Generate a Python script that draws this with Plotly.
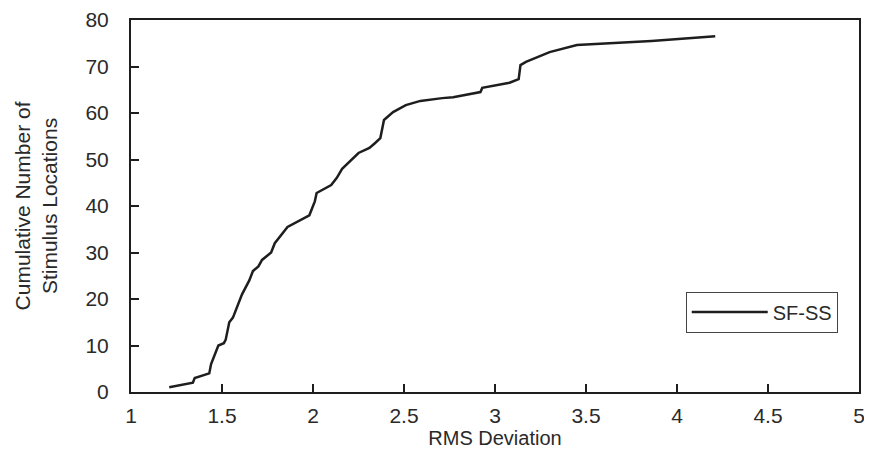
import plotly.graph_objects as go

rms_deviation = [1.21, 1.34, 1.35, 1.43, 1.44, 1.48, 1.51, 1.52, 1.54, 1.56, 1.61, 1.65,
                 1.67, 1.70, 1.72, 1.77, 1.79, 1.86, 1.98, 2.01, 2.02, 2.10, 2.13, 2.16,
                 2.25, 2.31, 2.34, 2.37, 2.39, 2.44, 2.51, 2.59, 2.71, 2.77, 2.92, 2.93,
                 3.08, 3.13, 3.14, 3.17, 3.30, 3.45, 3.86, 4.21]
cumulative_count = [1, 2, 3, 4, 6, 10, 10.5, 11.2, 15, 16, 21, 24,
                    26, 27, 28.4, 30, 32, 35.5, 38, 41, 42.8, 44.5, 46, 48,
                    51.4, 52.5, 53.5, 54.6, 58.5, 60.2, 61.7, 62.6, 63.2, 63.4, 64.5, 65.4,
                    66.5, 67.3, 70.3, 71, 73.1, 74.6, 75.5, 76.5]

x_ticks = [1, 1.5, 2, 2.5, 3, 3.5, 4, 4.5, 5]
y_ticks = [0, 10, 20, 30, 40, 50, 60, 70, 80]

FONT = "Liberation Sans, Arial, sans-serif"
TXT = "#2a2a2a"

fig = go.Figure()
fig.add_trace(go.Scatter(
    x=rms_deviation, y=cumulative_count, mode="lines", name="SF-SS",
    line=dict(color="#1e1e1e", width=2.5),
))

axis_common = dict(
    showline=True, linecolor="#1e1e1e", linewidth=2, mirror=True,
    ticks="inside", ticklen=8, tickwidth=1.5, tickcolor="#1e1e1e",
    showgrid=False, zeroline=False, automargin=False,
    ticklabeloverflow="allow",
    tickfont=dict(family=FONT, size=21, color=TXT),
)

fig.update_layout(
    width=864, height=454,
    margin=dict(l=123, r=13, t=12, b=70),
    paper_bgcolor="white", plot_bgcolor="white",
    font=dict(family=FONT, size=21, color=TXT),
    xaxis=dict(range=[1, 5], tickvals=x_ticks, ticktext=[str(v) for v in x_ticks],
               title=dict(text="RMS Deviation", font=dict(family=FONT, size=20, color=TXT), standoff=4),
               ticklabelstandoff=4, **axis_common),
    yaxis=dict(range=[0, 80], tickvals=y_ticks,
               title=dict(text="Cumulative Number of<br>Stimulus Locations",
                          font=dict(family=FONT, size=21, color=TXT), standoff=22),
               ticklabelstandoff=16, **axis_common),
    showlegend=True,
    legend=dict(x=0.762, y=0.27, xanchor="left", yanchor="top",
                bordercolor="#444", borderwidth=1, bgcolor="white",
                font=dict(family=FONT, size=20, color=TXT), itemwidth=76,
                entrywidth=150, entrywidthmode="pixels"),
)

fig.write_html("out.html")
